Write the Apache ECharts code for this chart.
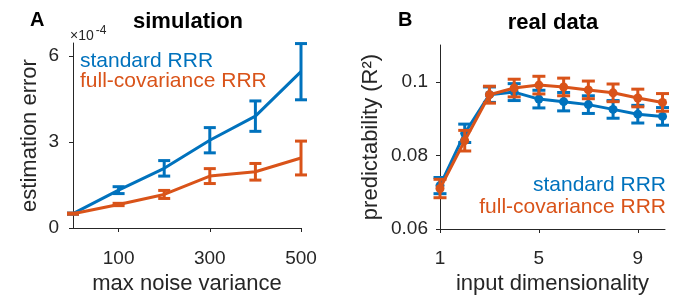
<!DOCTYPE html>
<html><head><meta charset="utf-8">
<script src="https://cdn.jsdelivr.net/npm/echarts@6/dist/echarts.min.js"></script>
<style>html,body{margin:0;padding:0;background:#fff}#c{width:699px;height:300px}</style>
</head><body><div id="c"></div>
<script>
// Panel A: simulation (values in units of 1e-4)
const noiseLevels = [0, 100, 200, 300, 400, 500];
const simStdMean  = [0.50, 1.32, 2.08, 3.06, 3.90, 5.45];
const simStdErr   = [0.02, 0.12, 0.27, 0.44, 0.53, 0.98];
const simFullMean = [0.50, 0.82, 1.17, 1.81, 1.96, 2.44];
const simFullErr  = [0.02, 0.04, 0.14, 0.26, 0.29, 0.59];
const simXTicks = [100, 300, 500];
const simYTicks = [0, 3, 6];

// Panel B: real data
const inputDims    = [1, 2, 3, 4, 5, 6, 7, 8, 9, 10];
const realStdMean  = [0.0718, 0.0860, 0.0965, 0.0972, 0.0953, 0.0946, 0.0938, 0.0925, 0.0912, 0.0906];
const realStdErr   = [0.0022, 0.0025, 0.0021, 0.0023, 0.0024, 0.0025, 0.0024, 0.0024, 0.0024, 0.0024];
const realFullMean = [0.0710, 0.0840, 0.0965, 0.0983, 0.0991, 0.0986, 0.0978, 0.0970, 0.0956, 0.0944];
const realFullErr  = [0.0025, 0.0028, 0.0023, 0.0024, 0.0024, 0.0024, 0.0024, 0.0024, 0.0024, 0.0024];
const realXTicks = [1, 5, 9];
const realYTicks = [0.06, 0.08, 0.1];

const BLUE = '#0072BD', ORANGE = '#D95319', INK = '#262626';
const FONT = 'Liberation Sans';

function pairs(xs, ys) { return xs.map((x, i) => [x, ys[i]]); }
function errData(xs, m, e) { return xs.map((x, i) => [x, m[i] - e[i], m[i] + e[i]]); }
function errRender(capHalf, color, lw) {
  return function (params, api) {
    const x = api.value(0), lo = api.value(1), hi = api.value(2);
    const a = api.coord([x, lo]), b = api.coord([x, hi]);
    const st = { stroke: color, lineWidth: lw };
    return { type: 'group', children: [
      { type: 'line', shape: { x1: a[0], y1: a[1], x2: b[0], y2: b[1] }, style: st },
      { type: 'line', shape: { x1: a[0] - capHalf, y1: a[1], x2: a[0] + capHalf, y2: a[1] }, style: st },
      { type: 'line', shape: { x1: b[0] - capHalf, y1: b[1], x2: b[0] + capHalf, y2: b[1] }, style: st }
    ]};
  };
}
function axisCommon() {
  return {
    axisLine: { show: true, onZero: false, lineStyle: { color: INK, width: 1 } },
    axisTick: { show: true, length: 4, lineStyle: { color: INK } },
    splitLine: { show: false },
    axisLabel: { color: INK, fontFamily: FONT, fontSize: 19 },
    nameTextStyle: { color: INK, fontFamily: FONT, fontSize: 22 }
  };
}
function mk(extra) {
  const c = axisCommon();
  const o = Object.assign({}, c, extra);
  o.axisTick = Object.assign({}, c.axisTick, extra.axisTick || {});
  o.axisLabel = Object.assign({}, c.axisLabel, extra.axisLabel || {});
  return o;
}

const chart = echarts.init(document.getElementById('c'), null, { renderer: 'canvas' });
chart.setOption({
  animation: false,
  backgroundColor: '#fff',
  grid: [
    { left: 73, top: 43, width: 228, height: 185 },
    { left: 440, top: 45, width: 225, height: 184 }
  ],
  xAxis: [
    mk({ type: 'value', gridIndex: 0, min: 0, max: 500,
      axisTick: { customValues: simXTicks }, axisLabel: { customValues: simXTicks, margin: 21 },
      name: 'max noise variance', nameLocation: 'middle', nameGap: 44 }),
    mk({ type: 'value', gridIndex: 1, min: 1, max: 10.1,
      axisTick: { customValues: realXTicks }, axisLabel: { customValues: realXTicks, margin: 20 },
      name: 'input dimensionality', nameLocation: 'middle', nameGap: 44 })
  ],
  yAxis: [
    mk({ type: 'value', gridIndex: 0, min: 0, max: 6.45,
      axisTick: { customValues: simYTicks }, axisLabel: { customValues: simYTicks, margin: 14 },
      name: 'estimation error', nameLocation: 'middle', nameGap: 32 }),
    mk({ type: 'value', gridIndex: 1, min: 0.06, max: 0.11,
      axisTick: { customValues: realYTicks }, axisLabel: { customValues: realYTicks, margin: 12,
        formatter: v => (Math.abs(v - 0.1) < 1e-9 ? '0.1' : v.toFixed(2)) },
      name: 'predictability (R²)', nameLocation: 'middle', nameGap: 58 })
  ],
  series: [
    { type: 'line', xAxisIndex: 0, yAxisIndex: 0, data: pairs(noiseLevels, simStdMean),
      showSymbol: false, lineStyle: { color: BLUE, width: 3 }, z: 2 },
    { type: 'custom', xAxisIndex: 0, yAxisIndex: 0, data: errData(noiseLevels, simStdMean, simStdErr),
      renderItem: errRender(6, BLUE, 3), encode: { x: 0, y: [1, 2] }, z: 2 },
    { type: 'line', xAxisIndex: 0, yAxisIndex: 0, data: pairs(noiseLevels, simFullMean),
      showSymbol: false, lineStyle: { color: ORANGE, width: 3 }, z: 3 },
    { type: 'custom', xAxisIndex: 0, yAxisIndex: 0, data: errData(noiseLevels, simFullMean, simFullErr),
      renderItem: errRender(6, ORANGE, 3), encode: { x: 0, y: [1, 2] }, z: 3 },

    { type: 'line', xAxisIndex: 1, yAxisIndex: 1, data: pairs(inputDims, realStdMean),
      symbol: 'circle', symbolSize: 9, itemStyle: { color: BLUE }, lineStyle: { color: BLUE, width: 3 }, z: 2 },
    { type: 'custom', xAxisIndex: 1, yAxisIndex: 1, data: errData(inputDims, realStdMean, realStdErr),
      renderItem: errRender(6.5, BLUE, 3), encode: { x: 0, y: [1, 2] }, z: 2 },
    { type: 'line', xAxisIndex: 1, yAxisIndex: 1, data: pairs(inputDims, realFullMean),
      symbol: 'circle', symbolSize: 9, itemStyle: { color: ORANGE }, lineStyle: { color: ORANGE, width: 3 }, z: 3 },
    { type: 'custom', xAxisIndex: 1, yAxisIndex: 1, data: errData(inputDims, realFullMean, realFullErr),
      renderItem: errRender(6.5, ORANGE, 3), encode: { x: 0, y: [1, 2] }, z: 3 }
  ],
  graphic: [
    { type: 'text', left: 30, top: 10, style: { text: 'A', font: 'bold 20px "Liberation Sans"', fill: '#000' } },
    { type: 'text', x: 188, y: 22, style: { text: 'simulation', font: 'bold 22px "Liberation Sans"', fill: '#000', align: 'center', verticalAlign: 'middle' } },
    { type: 'text', x: 70, y: 36, style: { text: '×10{s|-4}', fill: INK, font: '14px "Liberation Sans"', verticalAlign: 'middle',
        rich: { s: { fontSize: 12, fontFamily: FONT, padding: [0, 0, 10, 2], fill: INK } } } },
    { type: 'text', x: 80, y: 61, style: { text: 'standard RRR', font: '21px "Liberation Sans"', fill: BLUE, verticalAlign: 'middle' } },
    { type: 'text', x: 80, y: 81, style: { text: 'full-covariance RRR', font: '21px "Liberation Sans"', fill: ORANGE, verticalAlign: 'middle' } },

    { type: 'text', left: 398, top: 10, style: { text: 'B', font: 'bold 20px "Liberation Sans"', fill: '#000' } },
    { type: 'text', x: 553, y: 23, style: { text: 'real data', font: 'bold 22px "Liberation Sans"', fill: '#000', align: 'center', verticalAlign: 'middle' } },
    { type: 'text', x: 666, y: 185, style: { text: 'standard RRR', font: '21px "Liberation Sans"', fill: BLUE, align: 'right', verticalAlign: 'middle' } },
    { type: 'text', x: 666, y: 207, style: { text: 'full-covariance RRR', font: '21px "Liberation Sans"', fill: ORANGE, align: 'right', verticalAlign: 'middle' } }
  ]
});
</script>
</body></html>
